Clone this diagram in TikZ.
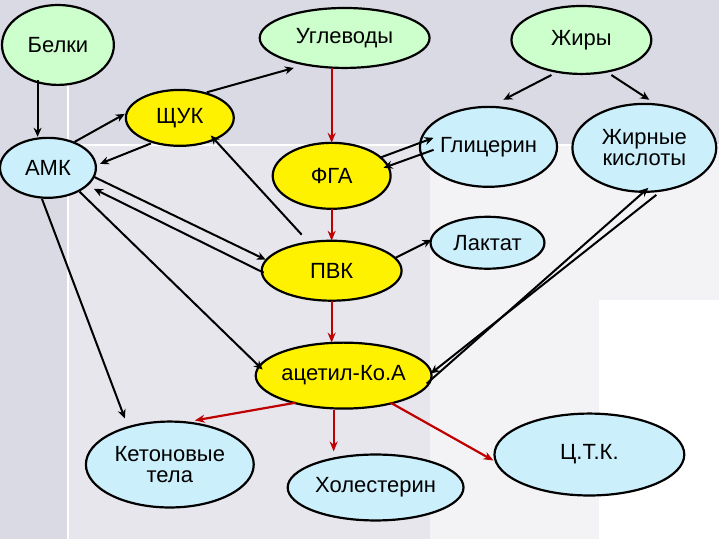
\documentclass[tikz,border=0pt]{standalone}
\usepackage{fontspec}
\setmainfont{Liberation Sans}
\usetikzlibrary{arrows.meta,shapes.geometric}
\definecolor{bgtop}{HTML}{D9DAE3}
\definecolor{bgmid}{HTML}{E6E6EC}
\definecolor{bglow}{HTML}{F3F3F6}
\begin{document}
\begin{tikzpicture}[x=1pt,y=-1pt,
  el/.style={ellipse,draw=black,line width=2.2pt,inner sep=0pt,font=\fontsize{22}{23}\selectfont,align=center},
  gr/.style={el,fill=green!20},
  ye/.style={el,fill=yellow},
  cy/.style={el,fill=cyan!20},
  ar/.style={line width=2pt,-{Stealth[length=9pt,width=8pt]}},
  rd/.style={line width=2.2pt,draw=red!75!black,-{Stealth[length=10pt,width=8pt,fill=red!75!black]}}]
\fill[bgtop] (0,0) rectangle (720,540);
\fill[bgmid] (68,145) rectangle (720,540);
\fill[bglow] (430,145) rectangle (720,540);
\fill[white] (600,300) rectangle (720,540);
\draw[white,line width=1.5pt] (68,80) -- (68,540) (68,145) -- (720,145);
\useasboundingbox (0,0) rectangle (720,540);
\node[gr,minimum width=112pt,minimum height=80pt] (b) at (58,45) {Белки};
\node[gr,minimum width=170pt,minimum height=60pt] (u) at (345,38) {Углеводы};
\node[gr,minimum width=140pt,minimum height=68pt] (zh) at (582,40) {Жиры};
\node[ye,minimum width=108pt,minimum height=56pt] (shuk) at (180,118) {ЩУК};
\node[cy,minimum width=96pt,minimum height=60pt] (amk) at (48,168) {АМК};
\node[ye,minimum width=118pt,minimum height=66pt] (fga) at (332,176) {ФГА};
\node[cy,minimum width=114pt,minimum height=80pt] (gl) at (489,147) {Глицерин};
\node[cy,minimum width=144pt,minimum height=88pt] (zk) at (645,148) {Жирные\\[-2pt]кислоты};
\node[cy,minimum width=114pt,minimum height=52pt] (lak) at (488,243) {Лактат};
\node[ye,minimum width=140pt,minimum height=60pt] (pvk) at (332,271) {ПВК};
\node[ye,minimum width=170pt,minimum height=66pt] (acoa) at (344,376) {ацетил-Ко.А};
\node[cy,minimum width=168pt,minimum height=86pt] (ket) at (170,465) {Кетоновые\\[-2pt]тела};
\node[cy,minimum width=176pt,minimum height=66pt] (hol) at (376,488) {Холестерин};
\node[cy,minimum width=190pt,minimum height=82pt] (ctk) at (590,455) {Ц.Т.К.};
% black arrows
\draw[ar] ([xshift=20pt,yshift=-6pt]b.south west) coordinate (b1) -- (b1 |- amk.north);
\draw[ar] ([xshift=-12pt,yshift=5pt]shuk.north east) -- ([xshift=10pt,yshift=-8pt]u.south west);
\draw[ar] ([xshift=-30pt]zh.south) -- ([xshift=15pt,yshift=6pt]gl.north);
\draw[ar] ([xshift=30pt]zh.south) -- ([xshift=5pt,yshift=3pt]zk.north);
\draw[ar] (380,158) -- (434,138);
\draw[ar] (434,150) -- (384,168);
\draw[ar] (396,258) -- (432,240);
\draw[ar] ([xshift=-6pt,yshift=-8pt]acoa.east) -- ([xshift=4pt,yshift=5pt]zk.south);
\draw[ar] ([xshift=12pt,yshift=-2pt]zk.south) -- ([xshift=-2pt,yshift=2pt]acoa.east);
\draw[ar] ([xshift=-8pt,yshift=4pt]amk.north east) -- ([yshift=4pt]shuk.west);
\draw[ar] ([xshift=10pt,yshift=-5pt]shuk.south west) -- ([xshift=3pt,yshift=4pt]amk.east);
\draw[ar] ([xshift=-30pt,yshift=5pt]pvk.north) -- ([xshift=-8pt,yshift=3pt]shuk.south east);
\draw[ar] (94,177) -- (266,260);
\draw[ar] (264,273) -- (94,189);
\draw[ar] ([xshift=-3pt,yshift=-2pt]amk.south east) -- ([xshift=8pt,yshift=6pt]acoa.west);
\draw[ar] ([xshift=-6pt]amk.south) -- ([xshift=-45pt,yshift=2pt]ket.north);
% red arrows
\draw[rd] (332,68) -- (332,143);
\draw[rd] (332,209) -- (332,241);
\draw[rd] (332,301) -- (332,343);
\draw[rd] ([xshift=15pt,yshift=-3pt]acoa.south west) -- ([xshift=25pt]ket.north);
\draw[rd] ([xshift=-10pt]acoa.south) -- ([xshift=-42pt,yshift=2pt]hol.north);
\draw[rd] ([xshift=-16pt,yshift=-3pt]acoa.south east) -- ([xshift=0pt,yshift=-6pt]ctk.west);
\end{tikzpicture}
\end{document}
